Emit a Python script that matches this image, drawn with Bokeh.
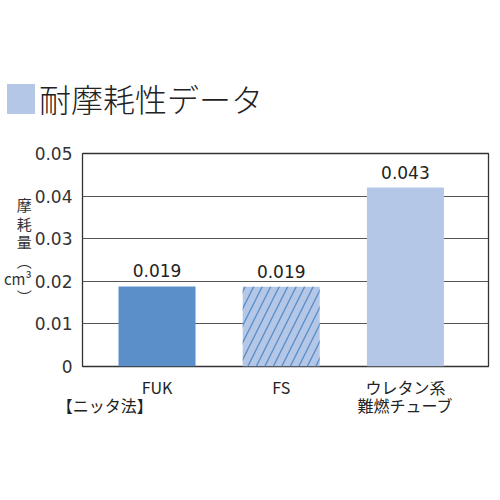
from bokeh.plotting import figure
from bokeh.models import ColumnDataSource, FixedTicker, Range1d, Div
from bokeh.core.properties import value
from bokeh.layouts import column
from bokeh.embed import file_html
from bokeh.resources import INLINE

# data
categories = ["FUK", "FS", "ウレタン系\n難燃チューブ"]
wear = [0.0188, 0.0187, 0.0420]
wear_labels = ["0.019", "0.019", "0.043"]
bar_colors = ["#5b8fc9", "#b4c7e7", "#b4c7e7"]
bar_hatch = [" ", "/", " "]
y_ticks = [0, 0.01, 0.02, 0.03, 0.04, 0.05]
y_tick_labels = ["0", "0.01", "0.02", "0.03", "0.04", "0.05"]
title = "耐摩耗性データ"
y_title = "摩\n耗\n量\n︵\ncm³\n︶\n"
method_note = "\n【ニッタ法】"
NOTE_X = -0.42

JP = "Noto Sans CJK JP"
NUM = "DejaVu Sans"
W = 492
HEAD = 120
H = 372
X0, X1 = -0.6, 2.669

xs = list(range(len(categories)))
src = ColumnDataSource(dict(x=xs, top=wear, label=wear_labels,
                            color=bar_colors, hatch=bar_hatch))

head = Div(width=W, height=HEAD, margin=0, text=(
    '<div style="position:relative;width:%dpx;height:%dpx;">'
    '<div style="position:absolute;left:7px;top:84px;width:28px;height:30px;'
    'background:#b4c7e7;"></div>'
    '<div style="position:absolute;left:39px;top:82px;font-family:\'%s\';'
    'font-weight:300;font-size:32px;line-height:32px;color:#222;'
    'white-space:nowrap;">%s</div></div>') % (W, HEAD, JP, title))

p = figure(width=W, height=H, x_range=Range1d(X0, X1), y_range=Range1d(0, 0.05),
           output_backend="svg", toolbar_location=None, margin=0,
           min_border_left=81, min_border_right=4,
           min_border_top=33, min_border_bottom=126)

p.vbar(x="x", top="top", width=0.62, source=src, fill_color="color",
       line_color=None, hatch_pattern="hatch", hatch_color="#5b8fc9",
       hatch_scale=17, hatch_weight=1.4)
p.text(x="x", y="top", text="label", source=src, y_offset=-9,
       text_align="center", text_baseline="bottom", text_font=value(NUM),
       text_font_size="17px", text_color="#222222")

p.outline_line_color = "#333333"
p.outline_line_width = 1.3
p.xgrid.visible = False
p.ygrid.ticker = FixedTicker(ticks=y_ticks)
p.ygrid.grid_line_color = "#555555"

p.yaxis.ticker = FixedTicker(ticks=y_ticks)
p.yaxis.major_label_overrides = dict(zip(y_ticks, y_tick_labels))
p.yaxis.axis_line_color = None
p.yaxis.major_tick_line_color = None
p.yaxis.minor_tick_line_color = None
p.yaxis.major_tick_out = 0
p.yaxis.major_tick_in = 0
p.yaxis.minor_tick_out = 0
p.yaxis.major_label_standoff = 10
p.yaxis.major_label_text_font = NUM
p.yaxis.major_label_text_font_size = "17px"
p.yaxis.major_label_text_color = "#333333"
p.yaxis.axis_label = y_title
p.yaxis.axis_label_orientation = "horizontal"
p.yaxis.axis_label_standoff = 0
p.yaxis.axis_label_text_font = JP
p.yaxis.axis_label_text_font_style = "normal"
p.yaxis.axis_label_text_font_size = "15px"
p.yaxis.axis_label_text_line_height = 0.88
p.yaxis.axis_label_text_color = "#333333"

p.xaxis.ticker = FixedTicker(ticks=[NOTE_X] + xs)
p.xaxis.major_label_overrides = dict(zip([NOTE_X] + xs, [method_note] + categories))
p.xaxis.axis_line_color = None
p.xaxis.major_tick_line_color = None
p.xaxis.minor_tick_line_color = None
p.xaxis.major_label_standoff = 2
p.xaxis.major_label_text_font = JP
p.xaxis.major_label_text_font_size = "16px"
p.xaxis.major_label_text_line_height = 0.78
p.xaxis.major_label_text_color = "#222222"

open("out.html", "w").write(file_html(column(head, p, spacing=0), INLINE))
